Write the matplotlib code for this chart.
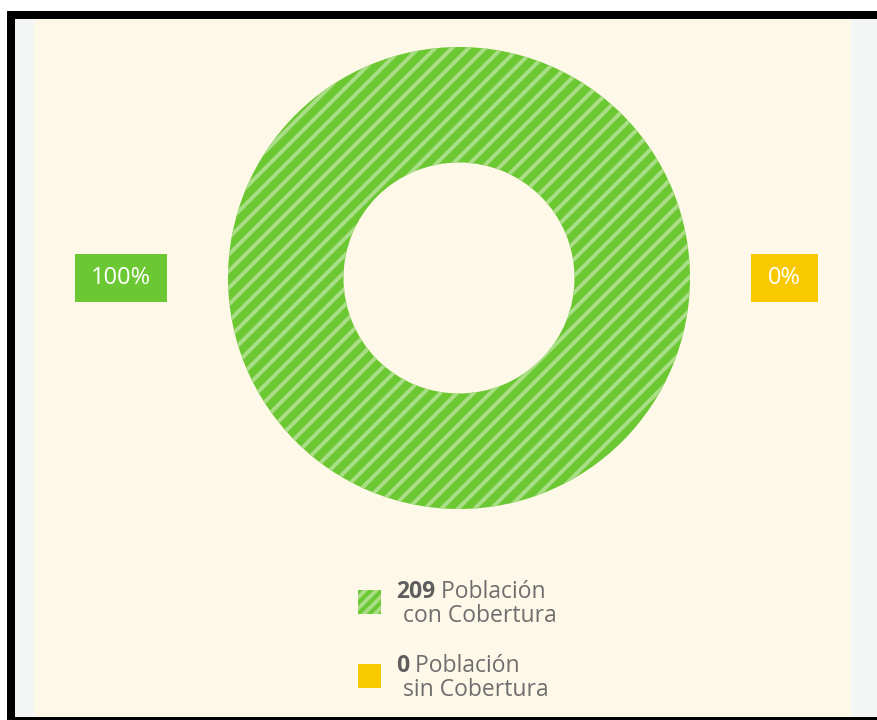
import matplotlib
matplotlib.use("Agg")
import matplotlib.pyplot as plt
from matplotlib.patches import Rectangle

# datos del gráfico
valores = [209, 0]
nombres = ["Población\ncon Cobertura", "Población\nsin Cobertura"]
colores = ["#6cc832", "#f9c900"]
rayas = ["#a9de86", None]

plt.rcParams["font.family"] = ["Open Sans", "DejaVu Sans"]
plt.rcParams["hatch.linewidth"] = 2.8

W, H = 878, 720
fig = plt.figure(figsize=(W / 100, H / 100), dpi=100, facecolor="white")


def caja(x0, y0, x1, y1, color, **kw):
    # coordenadas en pixeles, origen arriba a la izquierda
    r = Rectangle((x0 / W, 1 - y1 / H), (x1 - x0) / W, (y1 - y0) / H,
                  transform=fig.transFigure, facecolor=color, edgecolor="none", **kw)
    fig.patches.append(r)
    return r


# marco de la captura
caja(7, 11, 878, 720, "black")
caja(15, 19, 878, 717, "#f4f5f5")
caja(34, 19, 851, 717, "#fef8e8")

# dona
cx, cy, rad = 459, 278, 231
ax = fig.add_axes([(cx - rad) / W, 1 - (cy + rad) / H, 2 * rad / W, 2 * rad / H])
ax.set_zorder(5)
ax.set_facecolor("none")
cunas, _ = ax.pie(valores, colors=colores, startangle=90, counterclock=False,
                  radius=1, wedgeprops=dict(width=0.5, linewidth=0))
for c, r in zip(cunas, rayas):
    if r:
        c.set_hatch("//")
        c.set_edgecolor(r)
        c.set_linewidth(0)
ax.set_xlim(-1, 1)
ax.set_ylim(-1, 1)
ax.set_aspect("equal")
ax.axis("off")

# etiquetas de porcentaje
total = sum(valores)
porc = [f"{round(v * 100 / total)}%" for v in valores]
cajas_lbl = [(75, 254, 167, 302), (751, 254, 818, 302)]
for (x0, y0, x1, y1), txt, col in zip(cajas_lbl, porc, colores):
    caja(x0, y0, x1, y1, col)
    fig.text((x0 + x1) / 2 / W, 1 - (y0 + y1) / 2 / H, txt, color="white",
             fontsize=17, ha="center", va="center")

# leyenda
gris = "#6e6e6e"
filas = [590, 664]
for y, v, nom, col, r in zip(filas, valores, nombres, colores, rayas):
    cuadro = caja(358, y, 381, y + 24, col)
    if r:
        cuadro.set_hatch("///")
        cuadro.set_edgecolor(r)
        cuadro.set_linewidth(0)
    linea1, linea2 = nom.split("\n")
    t = fig.text(396 / W, 1 - (y + 2) / H, str(v), color="#5e5e5e", fontsize=16.5,
                 fontweight="bold", ha="left", va="center")
    ax.annotate(" " + linea1, xy=(1, 0.5), xycoords=t, color=gris, fontsize=16.5,
                ha="left", va="center", annotation_clip=False)
    fig.text(403 / W, 1 - (y + 26) / H, linea2, color=gris, fontsize=16.5,
             ha="left", va="center")

fig.savefig("out.png", dpi=100, facecolor=fig.get_facecolor())
